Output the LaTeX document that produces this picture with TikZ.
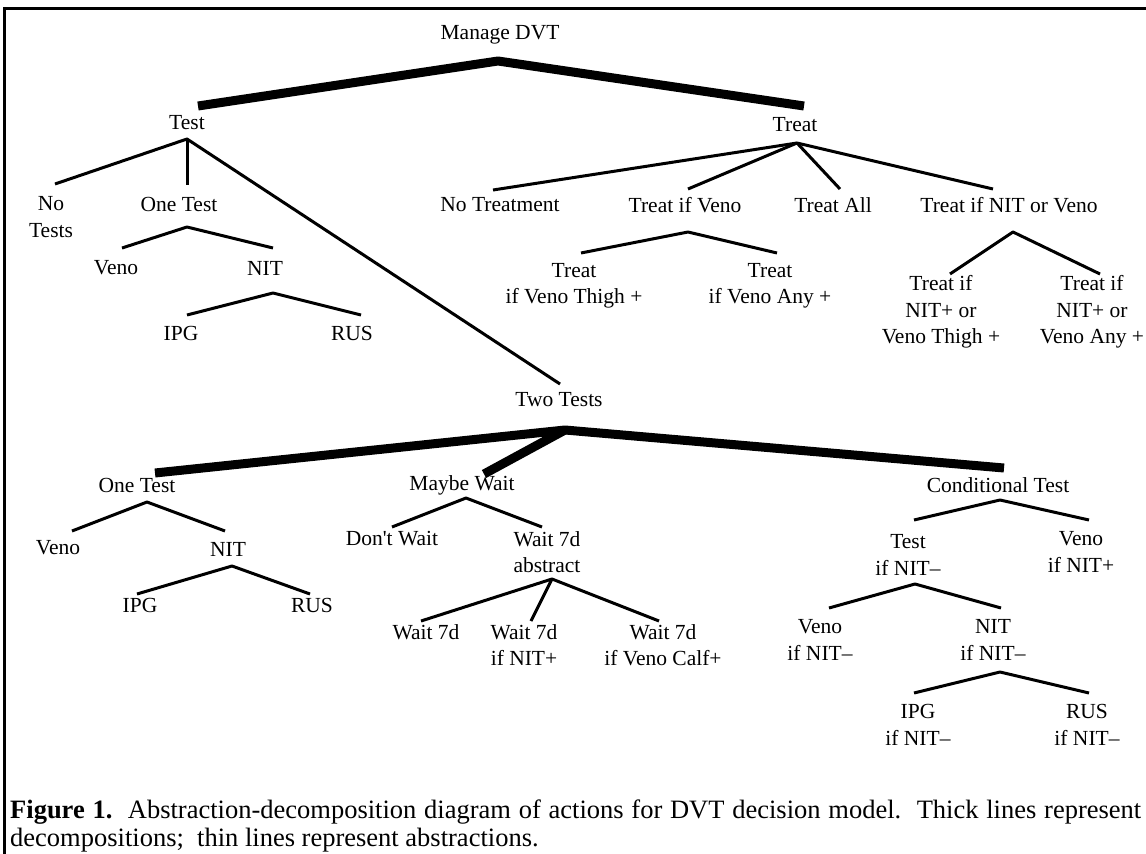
\documentclass[tikz,border=0pt]{standalone}
\usepackage{fontspec}
\setmainfont{Liberation Serif}
\begin{document}
\begin{tikzpicture}[x=1pt,y=-1pt,
  lbl/.style={inner sep=0pt, font=\fontsize{21.5}{26.5}\selectfont, align=center},
  thinln/.style={line width=3pt, line join=round},
  thickln/.style={line width=9pt, line join=round},
  capt/.style={inner sep=0pt, anchor=base west, font=\fontsize{26.5}{27}\selectfont},
  framel/.style={line width=3pt}]
\useasboundingbox (0,0) rectangle (1146,854);
% frame
\draw[framel] (4.5,854) -- (4.5,8) -- (1146,8);

% ---------- nodes ----------
\node[lbl] (mdvt) at (500,35) {Manage DVT};
\node[lbl] (test) at (187,123) {Test};
\node[lbl] (treat) at (795,125) {Treat};
\node[lbl] (notests) at (51,217) {No\\Tests};
\node[lbl] (onetest) at (179,204) {One Test};
\node[lbl] (veno1) at (116,268) {Veno};
\node[lbl] (nit1) at (265,268) {NIT};
\node[lbl] (ipg1) at (181,333) {IPG};
\node[lbl] (rus1) at (352,333) {RUS};
\node[lbl] (twotests) at (559,400) {Two Tests};
\node[lbl] (notreat) at (500,205) {No Treatment};
\node[lbl] (treatveno) at (685,205) {Treat if Veno};
\node[lbl] (treatall) at (833,205) {Treat All};
\node[lbl] (treatnv) at (1009,205) {Treat if NIT or Veno};
\node[lbl] (tvthigh) at (574,286) {Treat\\if Veno Thigh +};
\node[lbl] (tvany) at (770,286) {Treat\\if Veno Any +};
\node[lbl] (tnvthigh) at (941,312) {Treat if\\NIT+ or\\Veno Thigh +};
\node[lbl] (tnvany) at (1092,312) {Treat if\\NIT+ or\\Veno Any +};
\node[lbl] (onetest2) at (137,485) {One Test};
\node[lbl] (veno2) at (58,548) {Veno};
\node[lbl] (nit2) at (228,549) {NIT};
\node[lbl] (ipg2) at (140,605) {IPG};
\node[lbl] (rus2) at (312,605) {RUS};
\node[lbl] (maybewait) at (462,485) {Maybe Wait};
\node[lbl] (dontwait) at (392,539) {Don\textquotesingle t Wait};
\node[lbl] (wait7abs) at (547,552) {Wait 7d\\abstract};
\node[lbl] (wait7) at (426,632) {Wait 7d};
\node[lbl] (wait7nit) at (524,645) {Wait 7d\\if NIT+};
\node[lbl] (wait7calf) at (663,645) {Wait 7d\\if Veno Calf+};
\node[lbl] (condtest) at (998,485) {Conditional Test};
\node[lbl] (testnitm) at (908,555) {Test\\if NIT--};
\node[lbl] (venonitp) at (1081,552) {Veno\\if NIT+};
\node[lbl] (venonitm) at (820,640) {Veno\\if NIT--};
\node[lbl] (nitnitm) at (993,640) {NIT\\if NIT--};
\node[lbl] (ipgnitm) at (918,725) {IPG\\if NIT--};
\node[lbl] (rusnitm) at (1087,725) {RUS\\if NIT--};

% ---------- connector points ----------
\coordinate (a-mdvt) at (498,61);
\coordinate (e-test) at (198,106);
\coordinate (e-treat) at (804,106);

\coordinate (a-test) at (187,139);
\coordinate (e-notests) at (55,184);
\coordinate (e-onetest) at (187,185);
\coordinate (e-twotests) at (560,384);

\coordinate (a-onetest) at (187,227);
\coordinate (e-veno1) at (122,248);
\coordinate (e-nit1) at (273,248);
\coordinate (a-nit1) at (273,293);
\coordinate (e-ipg1) at (187,315);
\coordinate (e-rus1) at (361,315);

\coordinate (a-treat) at (797,143);
\coordinate (e-notreat) at (493,190);
\coordinate (e-treatveno) at (688,189);
\coordinate (e-treatall) at (840,189);
\coordinate (e-treatnv) at (993,189);
\coordinate (a-treatveno) at (688,232);
\coordinate (e-tvthigh) at (581,253);
\coordinate (e-tvany) at (777,253);
\coordinate (a-treatnv) at (1013,232);
\coordinate (e-tnvthigh) at (950,274);
\coordinate (e-tnvany) at (1100,274);

\coordinate (a-twotests) at (565,430);
\coordinate (e-onetest2) at (155,473);
\coordinate (e-maybewait) at (484,474);
\coordinate (e-condtest) at (1004,468);

\coordinate (a-onetest2) at (147,502);
\coordinate (e-veno2) at (72,531);
\coordinate (e-nit2) at (225,531);
\coordinate (a-nit2) at (232,566);
\coordinate (e-ipg2) at (137,594);
\coordinate (e-rus2) at (310,594);

\coordinate (a-maybewait) at (466,498);
\coordinate (e-dontwait) at (392,527);
\coordinate (e-wait7abs) at (542,527);
\coordinate (a-wait7abs) at (552,579);
\coordinate (e-wait7) at (421,621);
\coordinate (e-wait7nit) at (531,621);
\coordinate (e-wait7calf) at (659,621);

\coordinate (a-condtest) at (1000,500);
\coordinate (e-testnitm) at (914,520);
\coordinate (e-venonitp) at (1089,520);
\coordinate (a-testnitm) at (915,584);
\coordinate (e-venonitm) at (829,608);
\coordinate (e-nitnitm) at (1001,608);
\coordinate (a-nitnitm) at (1000,672);
\coordinate (e-ipgnitm) at (914,693);
\coordinate (e-rusnitm) at (1089,693);

% ---------- decompositions (thick) ----------
\draw[thickln] (e-test) -- (a-mdvt) -- (e-treat);
\draw[thickln] (e-onetest2) -- (a-twotests) -- (e-condtest);
\draw[thickln] (e-maybewait) -- (a-twotests);

% ---------- abstractions (thin) ----------
\draw[thinln] (e-notests) -- (a-test) -- (e-twotests);
\draw[thinln] (a-test) -- (e-onetest);
\draw[thinln] (e-veno1) -- (a-onetest) -- (e-nit1);
\draw[thinln] (e-ipg1) -- (a-nit1) -- (e-rus1);
\draw[thinln] (e-notreat) -- (a-treat) -- (e-treatnv);
\draw[thinln] (a-treat) -- (e-treatveno);
\draw[thinln] (a-treat) -- (e-treatall);
\draw[thinln] (e-tvthigh) -- (a-treatveno) -- (e-tvany);
\draw[thinln] (e-tnvthigh) -- (a-treatnv) -- (e-tnvany);
\draw[thinln] (e-veno2) -- (a-onetest2) -- (e-nit2);
\draw[thinln] (e-ipg2) -- (a-nit2) -- (e-rus2);
\draw[thinln] (e-dontwait) -- (a-maybewait) -- (e-wait7abs);
\draw[thinln] (e-wait7) -- (a-wait7abs) -- (e-wait7calf);
\draw[thinln] (a-wait7abs) -- (e-wait7nit);
\draw[thinln] (e-testnitm) -- (a-condtest) -- (e-venonitp);
\draw[thinln] (e-venonitm) -- (a-testnitm) -- (e-nitnitm);
\draw[thinln] (e-ipgnitm) -- (a-nitnitm) -- (e-rusnitm);

% ---------- caption ----------
\node[capt] (cap1) at (10,818) {\makebox[1131pt][s]{\textbf{Figure 1.}\ \ Abstraction-decomposition diagram of actions for DVT decision model.\ \ Thick lines represent}};
\node[capt] (cap2) at (10,846) {decompositions;\ \ thin lines represent abstractions.};
\end{tikzpicture}
\end{document}
